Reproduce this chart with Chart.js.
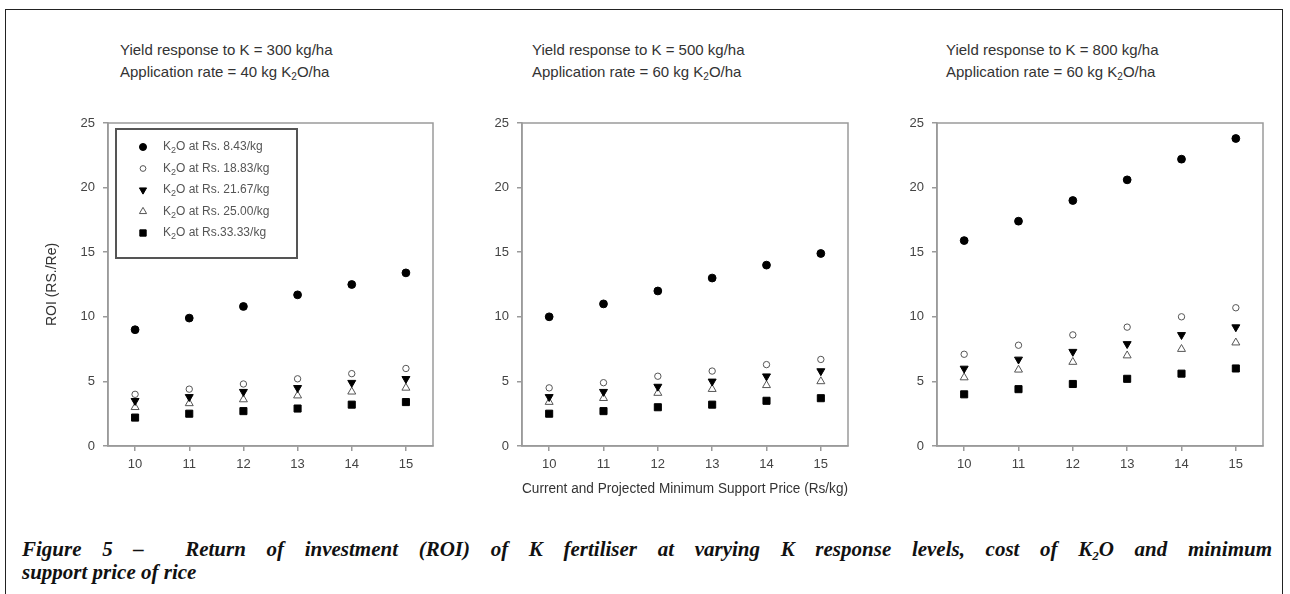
<!DOCTYPE html>
<html>
<head>
<meta charset="utf-8">
<script src="https://cdn.jsdelivr.net/npm/chart.js@4.4.0/dist/chart.umd.min.js"></script>
<style>
  body { margin: 0; background: #fff; width: 1290px; height: 594px; overflow: hidden; position: relative;
         font-family: "Liberation Sans", Arial, sans-serif; }
  #frame { position: absolute; left: 5px; top: 9px; width: 1276px; height: 620px;
           border: 1.5px solid #222; border-bottom: none; }
  .ptitle { position: absolute; font-size: 15px; color: #333; line-height: 22px; white-space: nowrap; }
  .ptitle sub { font-size: 10px; vertical-align: -3px; line-height: 0; }
  canvas { position: absolute; }
  .cap { position: absolute; left: 22px; width: 1250px; font-family: "Liberation Serif", "DejaVu Serif", serif;
         font-style: italic; font-weight: bold; font-size: 21px; color: #111; white-space: nowrap; }
  #cap1 { top: 537px; text-align: justify; text-align-last: justify; white-space: normal; }
  #cap2 { top: 560px; }
  .cap sub { font-size: 13px; vertical-align: -4px; line-height: 0; }
</style>
</head>
<body>
<div id="frame"></div>

<div class="ptitle" style="left:120px; top:39px">Yield response to K = 300 kg/ha<br>Application rate = 40 kg K<sub>2</sub>O/ha</div>
<div class="ptitle" style="left:532px; top:39px">Yield response to K = 500 kg/ha<br>Application rate = 60 kg K<sub>2</sub>O/ha</div>
<div class="ptitle" style="left:946px; top:39px">Yield response to K = 800 kg/ha<br>Application rate = 60 kg K<sub>2</sub>O/ha</div>

<canvas id="p1" width="443" height="406" style="left:0px; top:100px"></canvas>
<canvas id="p2" width="386" height="406" style="left:472px; top:100px"></canvas>
<canvas id="p3" width="386" height="406" style="left:887px; top:100px"></canvas>

<div class="cap" id="cap1">Figure 5 – &nbsp;Return of investment (ROI) of K fertiliser at varying K response levels, cost of K<sub>2</sub>O and minimum</div>
<div class="cap" id="cap2">support price of rice</div>

<script>
// minimum support price of rice (Rs/kg)
const msp = [10, 11, 12, 13, 14, 15];
const xTicks = [10, 11, 12, 13, 14, 15];
const yTicks = [0, 5, 10, 15, 20, 25];

const seriesLabels = ['K₂O at Rs. 8.43/kg', 'K₂O at Rs. 18.83/kg', 'K₂O at Rs. 21.67/kg',
                      'K₂O at Rs. 25.00/kg', 'K₂O at Rs.33.33/kg'];

// panel 1: response 300 kg/ha, 40 kg K2O/ha
const p1_843  = [9.0, 9.9, 10.8, 11.7, 12.5, 13.4];
const p1_1883 = [4.0, 4.4, 4.8, 5.2, 5.6, 6.0];
const p1_2167 = [3.5, 3.8, 4.2, 4.5, 4.9, 5.2];
const p1_2500 = [3.0, 3.3, 3.6, 3.9, 4.2, 4.5];
const p1_3333 = [2.2, 2.5, 2.7, 2.9, 3.2, 3.4];

// panel 2: response 500 kg/ha, 60 kg K2O/ha
const p2_843  = [10.0, 11.0, 12.0, 13.0, 14.0, 14.9];
const p2_1883 = [4.5, 4.9, 5.4, 5.8, 6.3, 6.7];
const p2_2167 = [3.8, 4.2, 4.6, 5.0, 5.4, 5.8];
const p2_2500 = [3.4, 3.7, 4.1, 4.4, 4.7, 5.0];
const p2_3333 = [2.5, 2.7, 3.0, 3.2, 3.5, 3.7];

// panel 3: response 800 kg/ha, 60 kg K2O/ha
const p3_843  = [15.9, 17.4, 19.0, 20.6, 22.2, 23.8];
const p3_1883 = [7.1, 7.8, 8.6, 9.2, 10.0, 10.7];
const p3_2167 = [6.0, 6.7, 7.3, 7.9, 8.6, 9.2];
const p3_2500 = [5.3, 5.9, 6.5, 7.0, 7.5, 8.0];
const p3_3333 = [4.0, 4.4, 4.8, 5.2, 5.6, 6.0];

const AXIS = '#9a9a9a';
const TICKTXT = '#444';
const FONT = '"Liberation Sans", Arial, sans-serif';

const styles = [
  { pointStyle: 'circle',   pointRadius: 3.9, backgroundColor: '#000', borderColor: '#000', rotation: 0 },
  { pointStyle: 'circle',   pointRadius: 3.2, backgroundColor: '#fff', borderColor: '#555', rotation: 0 },
  { pointStyle: 'triangle', pointRadius: 4.6, backgroundColor: '#000', borderColor: '#000', rotation: 180 },
  { pointStyle: 'triangle', pointRadius: 4.6, backgroundColor: '#fff', borderColor: '#555', rotation: 0 },
  { pointStyle: 'rect',     pointRadius: 5.0, backgroundColor: '#000', borderColor: '#000', rotation: 0 }
];

function makeSets(cols) {
  return cols.map((vals, k) => ({
    label: seriesLabels[k],
    data: msp.map((x, i) => ({ x: x, y: vals[i] })),
    showLine: false,
    pointStyle: styles[k].pointStyle,
    pointRadius: styles[k].pointRadius,
    pointHoverRadius: styles[k].pointRadius,
    pointBackgroundColor: styles[k].backgroundColor,
    pointBorderColor: styles[k].borderColor,
    backgroundColor: styles[k].backgroundColor,
    borderColor: styles[k].borderColor,
    pointBorderWidth: 1,
    pointRotation: styles[k].rotation
  }));
}

// box round the plot area
const framePlugin = {
  id: 'frame',
  afterDraw(chart) {
    const a = chart.chartArea, ctx = chart.ctx;
    ctx.save();
    ctx.strokeStyle = AXIS;
    ctx.lineWidth = 1.5;
    ctx.strokeRect(a.left, a.top, a.right - a.left, a.bottom - a.top);
    ctx.restore();
  }
};

// legend box inside panel 1, drawn so K2O gets a real subscript
const legendPlugin = {
  id: 'legendBox',
  afterDraw(chart) {
    const a = chart.chartArea, ctx = chart.ctx;
    const bx = a.left + 8, by = a.top + 6, bw = 181, bh = 129;
    ctx.save();
    ctx.strokeStyle = '#555';
    ctx.lineWidth = 2;
    ctx.strokeRect(bx, by, bw, bh);
    chart.data.datasets.forEach((ds, k) => {
      const cy = by + 18 + k * 21.5;
      ctx.save();
      ctx.fillStyle = ds.pointBackgroundColor;
      ctx.strokeStyle = ds.pointBorderColor;
      ctx.lineWidth = 1;
      Chart.helpers.drawPoint(ctx, {
        pointStyle: ds.pointStyle, radius: ds.pointRadius * 0.9, rotation: ds.pointRotation, borderWidth: 1
      }, bx + 27, cy);
      ctx.restore();
      const parts = ds.label.split('₂');
      let tx = bx + 47;
      ctx.fillStyle = '#555';
      ctx.textBaseline = 'middle';
      ctx.font = '12px ' + FONT;
      ctx.fillText(parts[0], tx, cy);
      tx += ctx.measureText(parts[0]).width;
      ctx.font = '9px ' + FONT;
      ctx.fillText('2', tx, cy + 4);
      tx += ctx.measureText('2').width;
      ctx.font = '12px ' + FONT;
      ctx.fillText(parts[1], tx, cy);
    });
    ctx.restore();
  }
};

function makePanel(id, cols, yWidth, withYTitle, withXTitle, extra) {
  return new Chart(document.getElementById(id), {
    type: 'scatter',
    data: { datasets: makeSets(cols) },
    options: {
      responsive: false,
      animation: false,
      layout: { padding: { left: 0, right: 10, top: 23, bottom: 0 } },
      plugins: { legend: { display: false }, tooltip: { enabled: false } },
      scales: {
        x: {
          type: 'linear', min: 9.5, max: 15.5,
          afterBuildTicks: s => { s.ticks = xTicks.map(v => ({ value: v })); },
          afterFit: s => { s.height = 60; },
          grid: { drawOnChartArea: false, drawTicks: true, tickLength: 5, color: AXIS, lineWidth: 1.5 },
          border: { color: AXIS, width: 1.5 },
          ticks: { color: TICKTXT, font: { size: 13, family: FONT }, padding: 6 },
          title: {
            display: withXTitle, text: 'Current and Projected Minimum Support Price (Rs/kg)',
            color: '#333', font: { size: 14, family: FONT },
            padding: { top: 0, bottom: 8 }
          }
        },
        y: {
          min: 0, max: 25,
          afterBuildTicks: s => { s.ticks = yTicks.map(v => ({ value: v })); },
          afterFit: s => { s.width = yWidth; },
          grid: { drawOnChartArea: false, drawTicks: true, tickLength: 5, color: AXIS, lineWidth: 1.5 },
          border: { color: AXIS, width: 1.5 },
          ticks: { color: TICKTXT, font: { size: 13, family: FONT }, padding: 8 },
          title: {
            display: withYTitle, text: 'ROI (RS./Re)', color: '#333',
            font: { size: 14, family: FONT },
            padding: { top: 44, bottom: 0 }
          }
        }
      }
    },
    plugins: extra
  });
}

makePanel('p1', [p1_843, p1_1883, p1_2167, p1_2500, p1_3333], 108, true, false, [framePlugin, legendPlugin]);
makePanel('p2', [p2_843, p2_1883, p2_2167, p2_2500, p2_3333], 50, false, true, [framePlugin]);
makePanel('p3', [p3_843, p3_1883, p3_2167, p3_2500, p3_3333], 50, false, false, [framePlugin]);
</script>
</body>
</html>
